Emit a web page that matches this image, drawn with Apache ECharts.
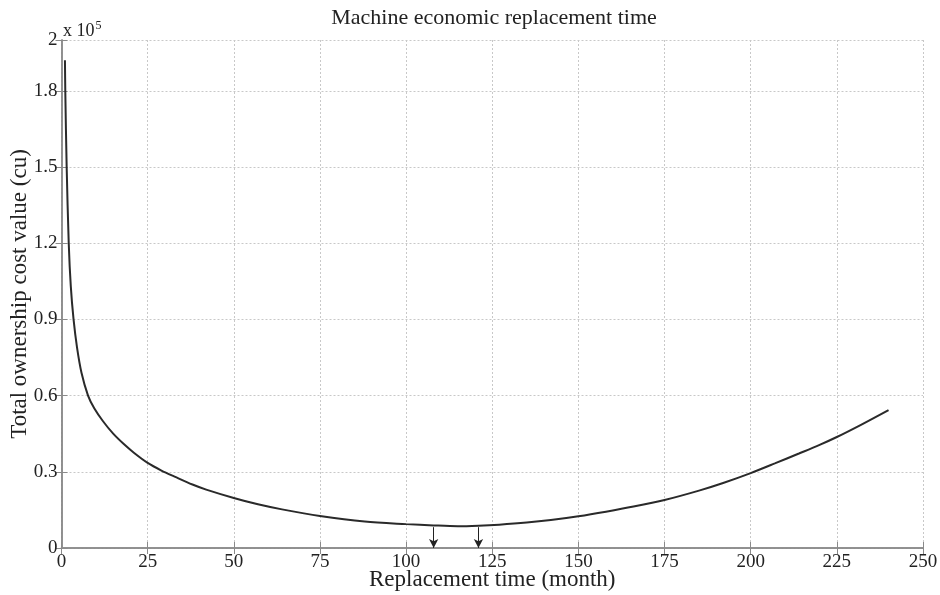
<!DOCTYPE html>
<html>
<head>
<meta charset="utf-8">
<script src="https://cdn.jsdelivr.net/npm/echarts@6/dist/echarts.min.js"></script>
<style>html,body{margin:0;padding:0;background:#fff}#c{width:940px;height:595px}</style>
</head>
<body>
<div id="c"></div>
<script>
// Replacement time (months)
var months = [1, 1.1, 1.5, 2.1, 2.7, 3.5, 4.5, 5.8, 7.7, 9.5, 12, 15, 18, 21, 25, 29, 33, 38, 42, 50, 57, 64, 75, 88, 100, 108, 115, 121, 127, 135, 142, 150, 158, 166, 175, 185, 192, 200, 207, 214, 220, 225, 232, 240];
// Total ownership cost value (x 10^5 cu)
var costs = [1.92, 1.8, 1.5, 1.2, 1.03, 0.9, 0.79, 0.69, 0.6, 0.55, 0.5, 0.45, 0.41, 0.375, 0.335, 0.305, 0.28, 0.25, 0.23, 0.197, 0.172, 0.152, 0.126, 0.104, 0.094, 0.089, 0.086, 0.088, 0.092, 0.1, 0.11, 0.125, 0.143, 0.163, 0.189, 0.226, 0.256, 0.295, 0.333, 0.372, 0.406, 0.437, 0.485, 0.543];
// Arrow markers (months) and their start level
var arrowMonths = [108, 121];
var arrowTop = [0.082, 0.082];
var xTicks = [0, 25, 50, 75, 100, 125, 150, 175, 200, 225, 250];
var yTicks = [0, 0.3, 0.6, 0.9, 1.2, 1.5, 1.8, 2];

var font = 'Liberation Serif';
var chart = echarts.init(document.getElementById('c'));
var pts = months.map(function (m, i) { return [m, costs[i]]; });
var arrows = arrowMonths.map(function (m, i) {
  return [{ coord: [m, arrowTop[i]] }, { coord: [m, 0] }];
});
var axisLine = { show: true, lineStyle: { color: '#8a8a8a', width: 1.5 } };
var tick = { show: true, inside: true, length: 6, lineStyle: { color: '#8a8a8a', width: 1 } };
var split = { show: true, lineStyle: { color: '#c8c8c8', type: [2, 2], width: 1 } };

chart.setOption({
  animation: false,
  backgroundColor: '#fff',
  title: {
    text: 'Machine economic replacement time',
    left: 489, top: 2, textAlign: 'center',
    textStyle: { fontFamily: font, fontWeight: 'normal', fontSize: 22, color: '#222' }
  },
  grid: { left: 61.5, right: 17, top: 40, bottom: 47, containLabel: false, outerBoundsMode: 'none' },
  xAxis: [{
    type: 'value', min: 0, max: 250, interval: 25,
    name: 'Replacement time (month)', nameLocation: 'middle', nameGap: 20, nameMoveOverlap: false,
    nameTextStyle: { fontFamily: font, fontSize: 23, color: '#222' },
    axisLine: axisLine, axisTick: tick, splitLine: split,
    axisLabel: { fontFamily: font, fontSize: 19, color: '#222', margin: 5,
      formatter: function (v) { return xTicks.indexOf(v) >= 0 ? String(v) : ''; } }
  }, {
    type: 'value', min: 0, max: 250, interval: 25, position: 'top',
    axisLine: axisLine, axisTick: tick, splitLine: { show: false }, axisLabel: { show: false }
  }],
  yAxis: [{
    type: 'value', min: 0, max: 2, interval: 0.3,
    name: 'Total ownership cost value (cu)', nameLocation: 'middle', nameGap: 30, nameMoveOverlap: false,
    nameTextStyle: { fontFamily: font, fontSize: 23, color: '#222' },
    axisLine: axisLine, axisTick: tick, splitLine: split,
    axisLabel: { fontFamily: font, fontSize: 19, color: '#222', margin: 4,
      formatter: function (v) { return String(Math.round(v * 10) / 10); } }
  }, {
    type: 'value', min: 0, max: 2, interval: 0.3, position: 'right',
    axisLine: axisLine, axisTick: tick, splitLine: { show: false }, axisLabel: { show: false }
  }],
  graphic: [{
    type: 'text', left: 63, top: 20,
    style: {
      text: '{b|x 10}{s|5}',
      rich: {
        b: { fontFamily: font, fontSize: 18, fill: '#222', verticalAlign: 'bottom' },
        s: { fontFamily: font, fontSize: 12, fill: '#222', verticalAlign: 'top', padding: [0, 0, 8, 1] }
      }
    }
  }],
  series: [{
    type: 'line', data: pts, showSymbol: false, smooth: 0.3,
    lineStyle: { color: '#2a2a2a', width: 2 },
    markLine: {
      silent: true, symbol: ['none', 'arrow'], symbolSize: [7, 9],
      label: { show: false },
      lineStyle: { color: '#222', width: 1, type: 'solid' },
      data: arrows
    }
  }]
});
</script>
</body>
</html>
